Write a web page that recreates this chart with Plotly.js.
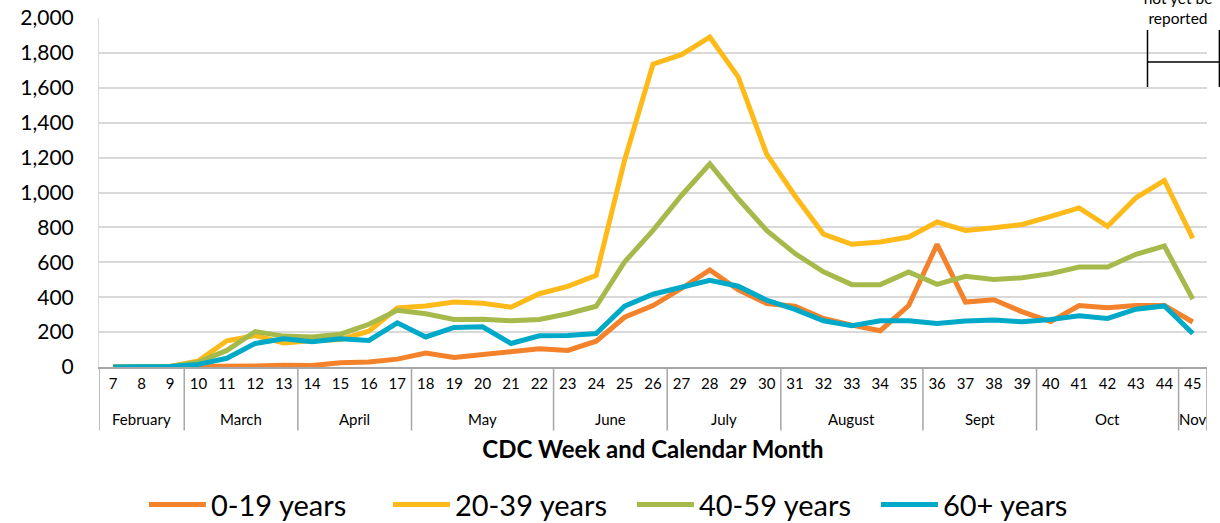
<!DOCTYPE html>
<html>
<head>
<meta charset="utf-8">
<script src="https://cdn.plot.ly/plotly-3.0.1.min.js"></script>
<style>html,body{margin:0;padding:0;background:#fff;}#chart{width:1220px;height:523px;}</style>
</head>
<body>
<div id="chart"></div>
<script>
const weeks = ["7","8","9","10","11","12","13","14","15","16","17","18","19","20","21","22","23","24","25","26","27","28","29","30","31","32","33","34","35","36","37","38","39","40","41","42","43","44","45"];
const months = ["February","February","February","March","March","March","March","April","April","April","April","May","May","May","May","May","June","June","June","June","July","July","July","July","August","August","August","August","August","Sept","Sept","Sept","Sept","Oct","Oct","Oct","Oct","Oct","Nov"];
const age0_19 = [0,0,0,2,5,6,10,8,25,28,45,80,55,72,92,105,95,148,285,352,450,556,442,364,348,278,240,208,352,703,372,385,316,260,352,340,352,352,258];
const age20_39 = [0,0,3,35,150,180,138,150,158,205,338,350,372,365,343,420,462,525,1185,1735,1790,1890,1663,1220,980,762,703,716,745,831,783,798,817,863,912,806,970,1069,737];
const age40_59 = [0,0,3,28,95,203,177,172,188,245,325,305,272,274,265,272,305,348,602,783,983,1164,964,783,650,545,472,472,545,474,520,501,511,535,573,573,646,693,389];
const age60plus = [0,0,3,15,50,135,162,145,162,152,253,172,227,230,135,179,180,192,349,417,455,497,463,383,330,265,236,265,265,250,263,269,259,272,293,278,331,350,192];
const seriesNames = ["0-19 years","20-39 years","40-59 years","60+ years"];
const seriesColors = ["#F4822A","#FDBA19","#A6B94B","#00A9C7"];
const seriesData = [age0_19, age20_39, age40_59, age60plus];

const font = "Lato, 'Open Sans', sans-serif";
const traces = seriesData.map((vals, i) => ({
  type: "scatter", mode: "lines",
  x: weeks, y: vals,
  name: seriesNames[i],
  line: {color: seriesColors[i], width: 5},
  hoverinfo: "skip"
}));

// month groups derived from the months array
const groups = [];
months.forEach((m, i) => {
  if (!groups.length || groups[groups.length - 1].name !== m) groups.push({name: m, start: i, end: i});
  else groups[groups.length - 1].end = i;
});

const dividerColor = "#a6a6a6";
const shapes = [];
const boundaries = [-0.5].concat(groups.map(g => g.end + 0.5));
boundaries.forEach(b => shapes.push({
  type: "line", xref: "x", yref: "paper", x0: b, x1: b, y0: 0, y1: -0.182,
  line: {color: dividerColor, width: 1.5}
}));
// bracket next to the note
const bracket = {color: "#000", width: 1.5};
shapes.push({type: "line", xref: "paper", yref: "paper", x0: 0.9463, x1: 0.9463, y0: 0.9656, y1: 0.8023, line: bracket});
shapes.push({type: "line", xref: "paper", yref: "paper", x0: 1.0112, x1: 1.0112, y0: 0.9656, y1: 0.8023, line: bracket});
shapes.push({type: "line", xref: "paper", yref: "paper", x0: 0.9463, x1: 1.0112, y0: 0.8739, y1: 0.8739, line: bracket});

const annotations = groups.map(g => ({
  xref: "x", yref: "paper", x: (g.start + g.end) / 2, y: -0.149, yanchor: "middle", xanchor: "center",
  text: g.name, showarrow: false, font: {size: 15, family: font, color: "#000"}
}));
annotations.push({
  xref: "paper", yref: "paper", x: 0.974, xanchor: "center", y: 0.968, yanchor: "bottom",
  text: "not yet be<br>reported", showarrow: false, bgcolor: "#fff",
  font: {size: 15.5, family: font, color: "#000"}, align: "center", width: 104
});

const layout = {
  width: 1220, height: 523,
  margin: {l: 99, r: 13, t: 18, b: 156},
  paper_bgcolor: "#fff", plot_bgcolor: "#fff",
  font: {family: font, color: "#000"},
  showlegend: true,
  legend: {
    orientation: "h", xref: "container", yref: "container",
    x: 0.118, xanchor: "left", y: 0.035, yanchor: "middle",
    font: {size: 29, family: font, color: "#000"},
    itemwidth: 57, entrywidth: 172, entrywidthmode: "pixels"
  },
  xaxis: {
    type: "category", range: [-0.5, weeks.length - 0.5],
    showgrid: false, zeroline: false,
    showline: true, linecolor: dividerColor, linewidth: 1.5,
    ticks: "", ticklabelstandoff: 2,
    tickfont: {size: 15, family: font, color: "#000"},
    title: {text: "<b>CDC Week and Calendar Month</b>", font: {size: 24, family: font, color: "#000"}, standoff: 50},
    automargin: false, fixedrange: true
  },
  yaxis: {
    range: [0, 2000], dtick: 200, tick0: 0,
    tickformat: ",d",
    showgrid: true, gridcolor: "#d9d9d9", gridwidth: 2,
    zeroline: false, showline: true, linecolor: "#d9d9d9", linewidth: 1,
    ticks: "", ticklabelstandoff: 20,
    tickfont: {size: 21, family: font, color: "#000"},
    automargin: false, fixedrange: true
  },
  annotations: annotations,
  shapes: shapes
};

Plotly.newPlot("chart", traces, layout, {staticPlot: true, displayModeBar: false});
</script>
</body>
</html>
